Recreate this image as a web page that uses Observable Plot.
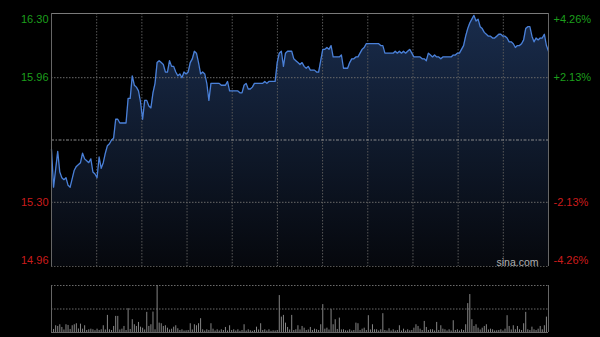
<!DOCTYPE html>
<html><head><meta charset="utf-8">
<script src="https://cdn.jsdelivr.net/npm/d3@7"></script>
<script src="https://cdn.jsdelivr.net/npm/@observablehq/plot@0.6"></script>
<style>
html,body{margin:0;padding:0;background:#000;}
#wrap{position:relative;width:600px;height:337px;background:#000;overflow:hidden;}
#wrap svg{position:absolute;left:0;}
</style></head><body><div id="wrap"></div>
<script>
// minute index (0 = 9:30 open, 240 = 15:00 close) and last price
const minutes = [0,1,3,4,5,6,7,8,9,11,12,14,15,16,17,18,19,20,21,22,23,24,25,26,27,28,29,30,31,32,33,35,36,37,38,39,40,41,42,43,44,45,46,47,48,49,50,51,52,53,54,55,56,57,58,59,60,61,62,63,64,65,66,67,68,69,70,71,72,73,74,75,76,77,78,79,80,81,82,83,84,85,86,87,88,89,90,91,92,93,94,95,96,97,98,99,100,101,102,103,104,105,106,107,108,109,110,111,112,113,114,115,116,117,118,119,120,121,122,123,124,125,126,127,128,129,130,131,132,133,134,135,136,137,138,139,140,141,142,143,144,145,146,147,148,149,150,151,152,153,154,155,156,157,158,159,160,161,162,163,164,165,166,167,168,169,170,171,172,173,174,175,176,177,178,179,180,181,182,183,184,185,186,187,188,189,190,191,192,193,194,195,196,197,198,199,200,201,202,203,204,205,206,207,208,209,210,211,212,213,214,215,216,217,218,219,220,221,222,223,224,225,226,227,228,229,230,231,232,233,234,235,236,237,238,239,240];
const prices = [15.58,15.38,15.57,15.46,15.43,15.42,15.43,15.39,15.38,15.47,15.49,15.51,15.56,15.53,15.52,15.51,15.53,15.46,15.45,15.43,15.54,15.48,15.51,15.56,15.60,15.61,15.63,15.64,15.74,15.74,15.72,15.72,15.72,15.85,15.85,15.97,15.92,15.91,15.89,15.83,15.74,15.84,15.84,15.81,15.80,15.88,15.93,16.04,16.05,16.04,16.03,15.99,15.99,16.05,16.02,16.02,15.99,15.97,15.98,15.96,15.99,15.98,15.99,16.04,16.06,16.10,16.09,16.04,15.98,15.99,15.98,15.93,15.84,15.93,15.93,15.93,15.93,15.93,15.92,15.92,15.92,15.94,15.89,15.89,15.89,15.89,15.89,15.88,15.88,15.92,15.93,15.90,15.90,15.91,15.93,15.93,15.93,15.93,15.93,15.94,15.93,15.94,15.94,15.94,15.94,16.04,16.09,16.10,16.02,16.09,16.10,16.10,16.10,16.06,16.05,16.04,16.03,16.04,16.02,16.01,16.02,16.00,16.00,16.00,15.99,15.99,16.05,16.11,16.11,16.12,16.11,16.13,16.07,16.07,16.07,16.07,16.08,16.01,16.01,16.01,16.04,16.06,16.06,16.07,16.07,16.09,16.11,16.12,16.14,16.14,16.14,16.14,16.14,16.14,16.14,16.13,16.13,16.09,16.09,16.09,16.09,16.09,16.10,16.09,16.10,16.09,16.10,16.09,16.10,16.11,16.09,16.07,16.07,16.07,16.07,16.06,16.06,16.05,16.09,16.08,16.07,16.08,16.07,16.07,16.06,16.07,16.07,16.07,16.07,16.07,16.08,16.08,16.09,16.09,16.11,16.13,16.18,16.22,16.25,16.27,16.29,16.26,16.27,16.23,16.22,16.20,16.19,16.18,16.18,16.17,16.17,16.18,16.19,16.19,16.18,16.18,16.17,16.15,16.15,16.14,16.12,16.13,16.13,16.14,16.16,16.22,16.23,16.23,16.18,16.15,16.17,16.16,16.17,16.17,16.19,16.13,16.10];
// volume per minute (lots), index = minute
const volumes = [900,300,670,600,770,500,250,770,700,300,670,770,870,350,830,330,670,200,270,330,270,180,330,200,270,670,250,1700,270,200,600,1600,1600,250,330,600,200,2370,300,1270,770,600,1000,530,430,250,2000,600,770,2030,270,4670,930,870,600,670,430,250,330,530,670,370,200,270,150,170,200,870,250,770,670,870,1370,270,150,270,200,870,330,150,270,150,270,200,500,150,670,200,270,150,270,120,200,770,150,270,170,120,200,530,250,870,200,270,150,270,120,170,150,200,3670,1530,1700,930,500,250,1700,200,270,670,250,600,430,200,250,500,200,330,270,200,770,2770,330,430,250,2270,770,1270,300,1430,250,270,170,150,270,150,200,930,870,200,330,430,200,1670,250,770,270,270,150,270,1870,200,150,370,150,270,150,200,670,150,330,150,270,170,200,430,770,600,330,200,1100,500,200,270,270,150,1000,200,670,330,270,150,270,150,1170,200,270,150,270,200,770,2870,3770,1270,600,770,430,250,430,600,770,250,330,270,150,170,200,270,150,330,1670,600,250,670,270,600,270,200,870,2000,270,200,530,270,200,330,600,270,670,1530,4600];
const prevClose = 15.63;
const priceTicks = [16.30, 15.96, 15.30, 14.96];
const pctLabels = ["+4.26%", "+2.13%", "-2.13%", "-4.26%"];
const watermark = "sina.com";

const yMin = d3.min(priceTicks), yMax = d3.max(priceTicks);
const priceData = minutes.map((t, i) => ({t, p: prices[i]}));
const volData = volumes.map((v, i) => ({t: i, v}));
const tickData = priceTicks.map((v, i) => ({v, pct: pctLabels[i]}));
const gridX = d3.range(1, 11).map(k => k * 240 / 11);

const GREEN = "#1c9e1c", RED = "#cc1c1c";
const font = "'Liberation Sans', Arial, sans-serif";

const gradient = (index, scales, values, dims) => {
  const defs = d3.create("svg:defs");
  const g = defs.append("linearGradient").attr("id", "areaGrad")
    .attr("gradientUnits", "userSpaceOnUse")
    .attr("x1", 0).attr("x2", 0)
    .attr("y1", dims.marginTop).attr("y2", dims.height - dims.marginBottom);
  g.append("stop").attr("offset", "0").attr("stop-color", "#192c4c");
  g.append("stop").attr("offset", "1").attr("stop-color", "#06080d");
  return defs.node();
};

const labelMarks = (filter, dy) => [
  Plot.text(tickData, {filter, y: "v", text: d => d.v.toFixed(2), frameAnchor: "left", textAnchor: "end", dx: -3, dy,
    fill: d => d.v > prevClose ? GREEN : RED}),
  Plot.text(tickData, {filter, y: "v", text: "pct", frameAnchor: "right", textAnchor: "start", dx: 5, dy,
    fill: d => d.v > prevClose ? GREEN : RED})
];

const price = Plot.plot({
  width: 600, height: 280,
  marginLeft: 51, marginRight: 52, marginTop: 13, marginBottom: 14,
  style: {background: "#000", fontFamily: font, fontSize: "11px", overflow: "visible"},
  x: {domain: [0, 240], axis: null},
  y: {domain: [yMin, yMax], axis: null},
  color: {type: "identity"},
  marks: [
    gradient,
    Plot.areaY(priceData, {x: "t", y1: () => yMin, y2: "p", fill: "url(#areaGrad)"}),
    Plot.ruleX(gridX, {stroke: "#585858", strokeDasharray: "1.5,1.5"}),
    Plot.ruleY([priceTicks[1], priceTicks[2]], {stroke: "#6a6a6a", strokeDasharray: "1.5,1.5"}),
    Plot.ruleY([prevClose], {stroke: "#8a8a8a", strokeDasharray: "3,1.5,1.5,1.5"}),
    Plot.lineY(priceData, {x: "t", y: "p", stroke: "#4a80d8", strokeWidth: 1.3}),
    Plot.ruleY([yMax], {stroke: "#7a7a7a"}),
    Plot.ruleY([yMin], {stroke: "#555", strokeDasharray: "1.5,1.5"}),
    Plot.ruleX([0, 240], {stroke: "#666"}),
    ...labelMarks(d => d.v === yMax, 6),
    ...labelMarks(d => d.v !== yMax && d.v !== yMin, 0),
    ...labelMarks(d => d.v === yMin, -6),
    Plot.text([watermark], {text: d => d, frameAnchor: "bottom-right", textAnchor: "end", lineAnchor: "bottom",
      dx: -10, dy: -1, fill: "#b0b0b0", fontSize: 10.5})
  ]
});
price.style.top = "0px";

const vMax = d3.max(volumes);
const vol = Plot.plot({
  width: 600, height: 57,
  marginLeft: 51, marginRight: 52, marginTop: 5, marginBottom: 5,
  style: {background: "#000", fontFamily: font},
  x: {domain: [0, 240], axis: null},
  y: {domain: [0, vMax], axis: null},
  marks: [
    Plot.ruleY([vMax, vMax / 2], {stroke: "#6a6a6a", strokeDasharray: "1.5,1.5"}),
    Plot.ruleX(volData, {x: "t", y1: 0, y2: "v", stroke: "#858585", strokeWidth: 1}),
    Plot.ruleY([0], {stroke: "#666"}),
    Plot.ruleX([0, 240], {stroke: "#666"})
  ]
});
vol.style.top = "280px";

const wrap = document.getElementById("wrap");
wrap.appendChild(price);
wrap.appendChild(vol);
</script>
</body></html>
